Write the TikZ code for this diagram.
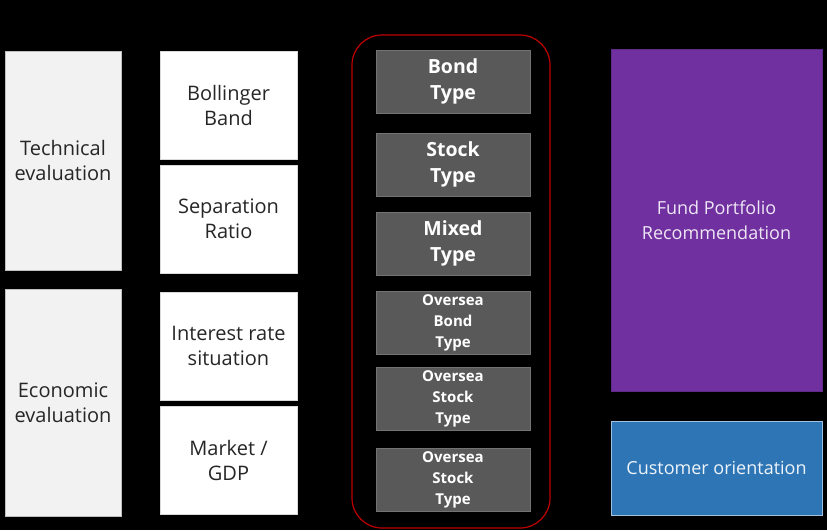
\documentclass[tikz,border=0pt]{standalone}
\usepackage{fontspec}
\setmainfont{Open Sans}
\usetikzlibrary{positioning}

\definecolor{boxgray}{HTML}{595959}
\definecolor{fundpurple}{HTML}{7030A0}
\definecolor{custblue}{HTML}{2E75B6}
\definecolor{frame}{HTML}{C00000}

\tikzset{
	basebox/.style={inner sep=0pt, outer sep=0pt, align=center, line width=0.8pt},
	evalbox/.style={basebox, draw=black!25, fill=black!5, text=black!85, minimum width=116pt, font=\fontsize{20}{25}\selectfont},
	factorbox/.style={basebox, draw=black!15, fill=white, text=black!85, minimum width=137pt, minimum height=108pt, font=\fontsize{20}{25}\selectfont},
	typebox/.style={basebox, draw=black!55, fill=boxgray, text=white, minimum width=154pt, minimum height=63pt, font=\bfseries\fontsize{19.5}{26}\selectfont},
	smalltype/.style={typebox, font=\bfseries\fontsize{15}{21}\selectfont},
	resultbox/.style={basebox, minimum width=211pt, font=\fontsize{18}{25}\selectfont}
}

\begin{document}
\begin{tikzpicture}[x=1pt, y=-1pt]
	\fill[black] (0,0) rectangle (827,530);

	% left column
	\node[evalbox, minimum height=219pt, anchor=north west] (tech) at (5,51) {Technical\\evaluation};
	\node[evalbox, minimum height=227pt, anchor=north west] (econ) at (5,289) {Economic\\evaluation};

	\node[factorbox, anchor=north west] (boll) at (160,51) {Bollinger\\Band};
	\node[factorbox] (sep) [below=6pt of boll] {Separation\\Ratio};
	\node[factorbox, anchor=north west] (rate) at (160,292) {Interest rate\\situation};
	\node[factorbox] (gdp) [below=6pt of rate] {Market /\\GDP};

	% fund types
	\node[draw=frame, line width=1.2pt, rounded corners=30pt, minimum width=198pt, minimum height=493pt, inner sep=0pt] (types) at (451,281.5) {};

	\node[typebox, anchor=north west] (bond) at (376,50) {Bond\\Type};
	\node[typebox] (stock) [below=20pt of bond] {Stock\\Type};
	\node[typebox] (mixed) [below=16pt of stock] {Mixed\\Type};
	\node[smalltype] (obond) [below=16pt of mixed] {Oversea\\Bond\\Type};
	\node[smalltype] (ostock) [below=13pt of obond] {Oversea\\Stock\\Type};
	\node[smalltype] (ostock2) [below=18pt of ostock] {Oversea\\Stock\\Type};

	% results
	\node[resultbox, draw=fundpurple!85!black, fill=fundpurple, text=white!88!fundpurple, minimum height=342pt, anchor=north west] (fund) at (611,49) {Fund Portfolio\\Recommendation};
	\node[resultbox, draw=custblue!45!white, fill=custblue, text=white!92!custblue, minimum height=94pt] (cust) [below=30pt of fund] {Customer orientation};

\end{tikzpicture}
\end{document}
